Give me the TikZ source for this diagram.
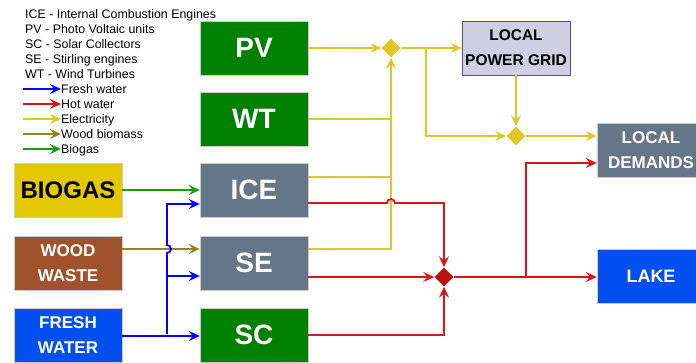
\documentclass[tikz,border=0pt]{standalone}
\usepackage{fontspec}
\setmainfont{Liberation Sans}
\usetikzlibrary{arrows.meta,shapes.geometric}
\definecolor{unitgreen}{RGB}{0,128,0}
\definecolor{unitgray}{RGB}{100,118,135}
\definecolor{gasyellow}{RGB}{227,200,0}
\definecolor{woodbrown}{RGB}{160,82,45}
\definecolor{waterblue}{RGB}{0,80,239}
\definecolor{gridlilac}{RGB}{208,206,226}
\definecolor{gridborder}{RGB}{86,81,126}
\definecolor{elec}{RGB}{226,198,40}
\definecolor{hotred}{RGB}{220,20,20}
\definecolor{freshblue}{RGB}{0,0,255}
\definecolor{biogreen}{RGB}{20,160,20}
\definecolor{woodolive}{RGB}{150,130,30}
\begin{document}
\begin{tikzpicture}[x=1pt,y=-1pt,font=\fontsize{12.4}{14}\selectfont]
\tikzstyle{unit}=[draw=black!20, thin, minimum width=108pt, minimum height=54pt, inner sep=2pt, align=center, text=white, font=\fontsize{28}{30}\selectfont\bfseries]
\tikzstyle{src}=[unit, font=\fontsize{17}{25}\selectfont\bfseries]
\tikzstyle{junc}=[diamond, minimum size=19pt, inner sep=0pt]
\tikzstyle{flow}=[line width=1.8pt]
\tikzstyle{arr}=[-{Stealth[length=11pt,width=10pt,inset=4pt]}]
\clip (0,0) rectangle (696,362);
% legend
\foreach \t [count=\i] in {ICE - Internal Combustion Engines, PV - Photo Voltaic units, SC - Solar Collectors, SE - Stirling engines, WT - Wind Turbines}
\node[anchor=base west,inner sep=0pt] (abbr\i) at (25,{18.5+15*(\i-1)}) {\t};
\foreach \c/\t [count=\i] in {freshblue/Fresh water, hotred/Hot water, elec/Electricity, woodolive/Wood biomass, biogreen/Biogas}
{\coordinate (ls\i) at (23,{89+15*(\i-1)});
\node[anchor=base west,inner sep=0pt] (lt\i) at (61,{93.5+15*(\i-1)}) {\t};
\draw[flow,arr,\c] (ls\i) -- (ls\i -| lt\i.west);}
% units
\node[unit,fill=unitgreen] (PV) at (254,48) {PV};
\node[unit,fill=unitgreen] (WT) at (254,119) {WT};
\node[unit,fill=unitgray] (ICE) at (254,190) {ICE};
\node[unit,fill=unitgray] (SE) at (254,263) {SE};
\node[unit,fill=unitgreen] (SC) at (254,335) {SC};
\node[src,fill=gasyellow,text=black,font=\fontsize{24}{26}\selectfont\bfseries] (BIO) at (68,190) {BIOGAS};
\node[src,fill=woodbrown] (WOOD) at (68,263) {WOOD\\WASTE};
\node[src,fill=waterblue] (FW) at (68,335) {FRESH\\WATER};
\node[src,fill=gridlilac,draw=gridborder,text=black,font=\fontsize{15.5}{25}\selectfont\bfseries] (LPG) at (516,48) {LOCAL\\POWER GRID};
\node[src,fill=unitgray] (LD) at (651,150) {LOCAL\\DEMANDS};
\node[src,fill=waterblue,font=\fontsize{18}{20}\selectfont\bfseries] (LAKE) at (651,276) {LAKE};
% junctions
\node[junc,fill=elec] (dA) at (391,48) {};
\node[junc,fill=elec] (dB) at (516,136) {};
\node[junc,fill=hotred!85!black] (dR) at (444,277) {};
% electricity
\coordinate (iceE) at ([yshift=13pt]ICE.east);
\coordinate (seE) at ([yshift=14pt]SE.east);
\begin{scope}[flow,elec]
\draw[arr] (PV.east) -- (dA.west);
\draw[arr] (seE) -| (dA.south);
\draw (iceE) -- (dA.south |- iceE);
\draw (WT.east) -- (dA.south |- WT.east);
\draw[arr] (dA.east) -- (LPG.west);
\coordinate (eb) at (426,48);
\draw[arr] (eb) |- (dB.west);
\draw[arr] (LPG.south) -- (dB.north);
\draw[arr] (dB.east) -- ([yshift=14pt]LD.west);
\end{scope}
% hot water
\begin{scope}[flow,hotred]
\draw[arr] ([yshift=-13pt]ICE.east) -- (387,203) arc[start angle=180,end angle=0,radius=4pt] -| (dR.north);
\draw[arr] ([yshift=-14pt]SE.east) -- (dR.west);
\draw[arr] (SC.east) -| (dR.south);
\draw[arr] (dR.east) -- (LAKE.west |- dR.east);
\coordinate (hb) at (526,277);
\draw[arr] (hb) |- ([yshift=-13pt]LD.west);
\end{scope}
% fuels and fresh water
\draw[flow,biogreen,arr] (BIO.east) -- (ICE.west);
\draw[flow,woodolive,arr] ([yshift=14pt]WOOD.east) -- ([yshift=14pt]SE.west);
\begin{scope}[flow,freshblue]
\draw[arr] ([yshift=-1pt]FW.east) -- ([yshift=-1pt]SC.west);
\coordinate (wb) at (167,334);
\draw[arr] (wb) -- (167,253) arc[start angle=-90,end angle=90,radius=4pt] |- ([yshift=-14pt]ICE.west);
\draw[arr] (167,276) -- ([yshift=-13pt]SE.west);
\end{scope}
\end{tikzpicture}
\end{document}
